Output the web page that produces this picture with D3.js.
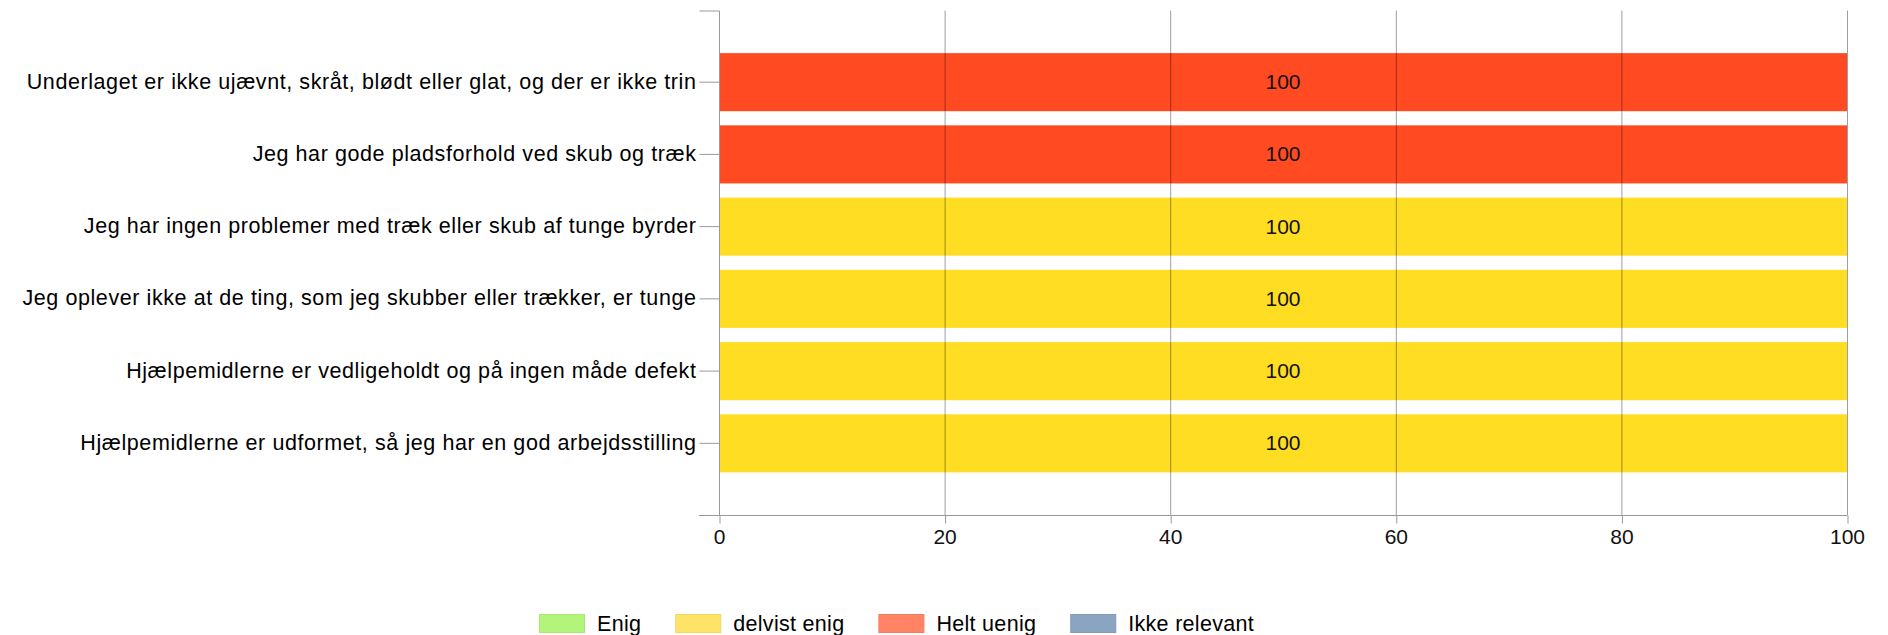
<!DOCTYPE html>
<html>
<head>
<meta charset="utf-8">
<script src="https://cdn.jsdelivr.net/npm/d3@7"></script>
<style>
html,body{margin:0;padding:0;background:#fff;}
svg{display:block;font-family:"Liberation Sans",Arial,sans-serif;}
</style>
</head>
<body>
<svg id="chart" width="1888" height="635"></svg>
<script>
const categories = [
  "Underlaget er ikke ujævnt, skråt, blødt eller glat, og der er ikke trin",
  "Jeg har gode pladsforhold ved skub og træk",
  "Jeg har ingen problemer med træk eller skub af tunge byrder",
  "Jeg oplever ikke at de ting, som jeg skubber eller trækker, er tunge",
  "Hjælpemidlerne er vedligeholdt og på ingen måde defekt",
  "Hjælpemidlerne er udformet, så jeg har en god arbejdsstilling"
];
const seriesNames = ["Enig", "delvist enig", "Helt uenig", "Ikke relevant"];
const enig         = [0, 0, 0, 0, 0, 0];
const delvistEnig  = [0, 0, 100, 100, 100, 100];
const heltUenig    = [100, 100, 0, 0, 0, 0];
const ikkeRelevant = [0, 0, 0, 0, 0, 0];
const xTicks = [0, 20, 40, 60, 80, 100];

const barColors    = ["#8EEF48", "#FFDD22", "#FF4A22", "#6B8DB5"];
const legendColors = ["#B3F57A", "#FFE366", "#FF8466", "#8AA4C2"];

const rows = categories.map((c, i) => ({
  cat: c,
  "Enig": enig[i],
  "delvist enig": delvistEnig[i],
  "Helt uenig": heltUenig[i],
  "Ikke relevant": ikkeRelevant[i]
}));

const svg = d3.select("#chart");
const pL = 719, pR = 1847, pT = 10.5, pB = 515;

const x = d3.scaleLinear().domain([0, 100]).range([pL, pR]);
const y = d3.scaleBand().domain(categories).range([pT, pB])
  .paddingInner(0.196).paddingOuter(0.59);

const stacked = d3.stack().keys(seriesNames)(rows);

const gBars = svg.append("g");
stacked.forEach((s, si) => {
  gBars.selectAll(null).data(s.filter(d => d[1] - d[0] > 0)).enter()
    .append("rect")
    .attr("x", d => x(d[0]))
    .attr("y", d => y(d.data.cat))
    .attr("width", d => x(d[1]) - x(d[0]))
    .attr("height", y.bandwidth())
    .attr("fill", barColors[si]);
});

// gridlines (drawn over bars)
svg.append("g").selectAll("line").data(xTicks.filter(t => t > 0)).enter()
  .append("line")
  .attr("x1", d => x(d) + 0.5).attr("x2", d => x(d) + 0.5)
  .attr("y1", pT).attr("y2", pB)
  .attr("stroke", "rgba(0,0,0,0.38)").attr("stroke-width", 1);

// value labels
stacked.forEach((s, si) => {
  svg.append("g").selectAll("text").data(s.filter(d => d[1] - d[0] > 0)).enter()
    .append("text")
    .attr("x", d => x((d[0] + d[1]) / 2))
    .attr("y", d => y(d.data.cat) + y.bandwidth() / 2)
    .attr("dy", "0.33em")
    .attr("text-anchor", "middle")
    .attr("font-size", 21)
    .attr("fill", "#111")
    .text(d => d[1] - d[0]);
});

// y axis
const yAxis = d3.axisLeft(y).tickSize(20).tickSizeOuter(20).tickPadding(3);
const gy = svg.append("g").attr("transform", `translate(${pL + 0.5},0)`).call(yAxis);
gy.select(".domain").attr("stroke", "#999").attr("d", `M-20,${pT + 0.5}H0V${pB}`);
gy.selectAll(".tick line").attr("stroke", "#999");
gy.selectAll(".tick text").attr("font-size", 21.5).attr("letter-spacing", 0.58).attr("fill", "#000")
  .attr("dy", "0.30em")
  .attr("font-family", '"Liberation Sans",Arial,sans-serif');

// x axis
const xAxis = d3.axisBottom(x).tickValues(xTicks).tickSize(8).tickPadding(6).tickFormat(d3.format("d"));
const gx = svg.append("g").attr("transform", `translate(0,${pB + 0.5})`).call(xAxis);
gx.select(".domain").attr("stroke", "#999").attr("d", `M${pL - 20},0H${pR + 0.5}`);
gx.selectAll(".tick line").attr("stroke", "#999").attr("transform", "translate(0.5,0)");
gx.selectAll(".tick text").attr("font-size", 21).attr("fill", "#111")
  .attr("font-family", '"Liberation Sans",Arial,sans-serif');

// legend
const legend = svg.append("g").attr("transform", "translate(539,614)");
let lx = 0;
seriesNames.forEach((name, i) => {
  const g = legend.append("g").attr("transform", `translate(${lx},0)`);
  g.append("rect").attr("x", 0.5).attr("y", 0.5).attr("width", 45).attr("height", 18)
    .attr("fill", legendColors[i]).attr("stroke", d3.color(legendColors[i]).darker(0.15)).attr("stroke-width", 1);
  const t = g.append("text").attr("x", 58).attr("y", 9).attr("dy", "0.36em")
    .attr("font-size", 21.5).attr("letter-spacing", 0.3).attr("fill", "#000").text(name);
  lx += 58 + t.node().getComputedTextLength() + 34;
});
</script>
</body>
</html>
